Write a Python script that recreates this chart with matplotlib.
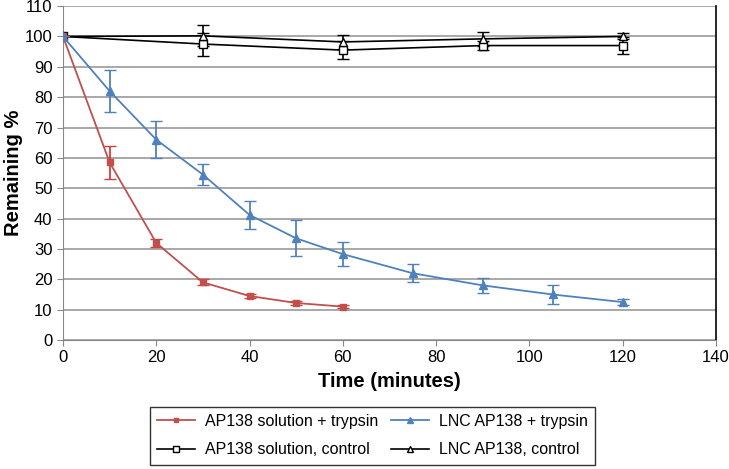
import matplotlib.pyplot as plt

plt.rcParams['font.family'] = ['Liberation Sans', 'DejaVu Sans']

# Data
t_sol = [0, 10, 20, 30, 40, 50, 60]
sol_trypsin = [100, 58.5, 32, 19, 14.5, 12.2, 11]
sol_trypsin_err = [0, 5.4, 1.2, 1.0, 0.8, 0.7, 0.5]

t_lnc = [0, 10, 20, 30, 40, 50, 60, 75, 90, 105, 120]
lnc_trypsin = [100, 82, 66, 54.5, 41.2, 33.5, 28.3, 22, 18, 15, 12.5]
lnc_trypsin_err = [0, 7, 6, 3.5, 4.7, 5.9, 3.9, 3, 2.5, 3, 1]

t_ctrl = [0, 30, 60, 90, 120]
sol_control = [100, 97.5, 95.5, 97, 97]
sol_control_err = [0, 3.8, 3, 1.5, 2.7]
lnc_control = [100, 100.2, 98.2, 99.2, 100]
lnc_control_err = [0, 3.5, 2.2, 2.3, 1]

red = '#C0504D'
blue = '#4F81BD'

fig = plt.figure(figsize=(7.29, 4.69), dpi=100)
ax = fig.add_axes([0.0864, 0.275, 0.8956, 0.712])

e1 = ax.errorbar(t_sol, sol_trypsin, yerr=sol_trypsin_err, color=red, ecolor='#D93A3A',
                 marker='s', markersize=4, linewidth=1.3, capsize=4, elinewidth=1.3,
                 zorder=4)
e2 = ax.errorbar(t_lnc, lnc_trypsin, yerr=lnc_trypsin_err, color=blue, marker='^',
                 markersize=6, linewidth=1.3, capsize=4, elinewidth=1.3, zorder=4)
e3 = ax.errorbar(t_ctrl, sol_control, yerr=sol_control_err, color='black', marker='s',
                 markersize=6, markerfacecolor='white', linewidth=1.2, capsize=4,
                 elinewidth=1.2, zorder=3)
e4 = ax.errorbar(t_ctrl, lnc_control, yerr=lnc_control_err, color='black', marker='^',
                 markersize=6, markerfacecolor='white', linewidth=1.2, capsize=4,
                 elinewidth=1.2, zorder=3)

ax.set_xlim(0, 140)
ax.set_ylim(0, 110)
ax.set_xticks(range(0, 141, 20))
ax.set_yticks(range(0, 111, 10))
ax.tick_params(labelsize=12, length=4, color='#888888')
ax.grid(axis='y', color='#999999', linewidth=1.2)
ax.set_axisbelow(True)
for side in ['left', 'bottom', 'top']:
    ax.spines[side].set_color('#888888')
ax.spines['top'].set_visible(False)
ax.spines['right'].set_color('black')
ax.spines['right'].set_linewidth(1.2)

ax.set_xlabel('Time (minutes)', fontsize=14.5, fontweight='bold', labelpad=5)
ax.set_ylabel('Remaining %', fontsize=14.5, fontweight='bold', labelpad=1)

# column-wise fill: red / black square in col 1, blue / black triangle in col 2
handles = [e1[0], e3[0], e2[0], e4[0]]
labels = ['AP138 solution + trypsin', 'AP138 solution, control',
          'LNC AP138 + trypsin', 'LNC AP138, control']
leg = fig.legend(handles, labels, loc='center', bbox_to_anchor=(0.511, 0.071), ncol=2,
                 fontsize=11.5, frameon=True, fancybox=False, edgecolor='black',
                 handlelength=2.4, columnspacing=0.8, borderpad=0.45, labelspacing=0.85,
                 handletextpad=0.6, markerscale=0.8)
leg.get_frame().set_linewidth(1.0)

fig.savefig('out.png', dpi=100)
